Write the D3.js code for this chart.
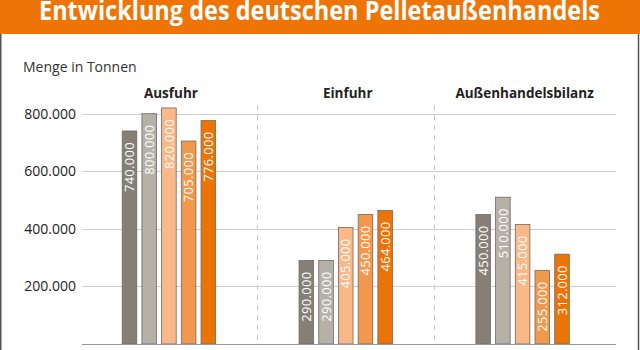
<!DOCTYPE html>
<html>
<head>
<meta charset="utf-8">
<script src="https://cdn.jsdelivr.net/npm/d3@7"></script>
<style>
    body { margin: 0; background: #fff; }
    svg { display: block; }
</style>
</head>
<body>
<div id="viz"></div>
<script>
// Data
const groups = ["Ausfuhr", "Einfuhr", "Außenhandelsbilanz"];
const series = ["s1", "s2", "s3", "s4", "s5"];
const ausfuhr = [740000, 800000, 820000, 705000, 776000];
const einfuhr = [290000, 290000, 405000, 450000, 464000];
const bilanz = [450000, 510000, 415000, 255000, 312000];
const yTicks = [200000, 400000, 600000, 800000];

const values = [ausfuhr, einfuhr, bilanz];
const colors = ["#867f75", "#b5b1a7", "#f8b887", "#f2984c", "#ec7406"];

const width = 640, height = 350;
const fmt = d => d3.format(",.0f")(d).replace(/,/g, ".");

const svg = d3.select("#viz").append("svg")
    .attr("width", width)
    .attr("height", height)
    .style("font-family", "'Open Sans', sans-serif");

// title bar
svg.append("rect")
    .attr("x", 0).attr("y", 0)
    .attr("width", width).attr("height", 34)
    .attr("fill", "#ee7405");

svg.append("text")
    .attr("x", 39)
    .attr("y", 20)
    .attr("textLength", 561)
    .attr("lengthAdjust", "spacingAndGlyphs")
    .attr("fill", "#fff")
    .style("font-size", "26px")
    .style("font-weight", "700")
    .text("Entwicklung des deutschen Pelletaußenhandels");

// frame lines left/right
svg.append("line").attr("x1", 0.75).attr("x2", 0.75).attr("y1", 34).attr("y2", height)
    .attr("stroke", "#555").attr("stroke-width", 1.5);
svg.append("line").attr("x1", 638.5).attr("x2", 638.5).attr("y1", 34).attr("y2", height)
    .attr("stroke", "#555").attr("stroke-width", 1.5);

svg.append("text")
    .attr("x", 23)
    .attr("y", 72)
    .attr("fill", "#333")
    .style("font-size", "14px")
    .text("Menge in Tonnen");

// scales
const x = d3.scaleBand()
    .domain(groups)
    .range([80.5, 611]);

const xInner = d3.scaleBand()
    .domain(series)
    .range([-46.7, 46.7])
    .paddingInner(0.26);

const y = d3.scaleLinear()
    .domain([0, 800000])
    .range([344, 113.7]);

// grid
const grid = svg.append("g");
grid.selectAll("line")
    .data(yTicks)
    .enter().append("line")
    .attr("x1", 82).attr("x2", 616)
    .attr("y1", d => Math.round(y(d)) + 0.5)
    .attr("y2", d => Math.round(y(d)) + 0.5)
    .attr("stroke", "#cfcfcf");

// y axis labels
svg.append("g")
    .selectAll("text")
    .data(yTicks)
    .enter().append("text")
    .attr("x", 76)
    .attr("y", d => y(d))
    .attr("dy", "0.36em")
    .attr("text-anchor", "end")
    .attr("fill", "#222")
    .style("font-size", "14px")
    .text(d => fmt(d));

// dashed separators
svg.append("g")
    .selectAll("line")
    .data(groups.slice(1))
    .enter().append("line")
    .attr("x1", d => Math.round(x(d)) + 0.5)
    .attr("x2", d => Math.round(x(d)) + 0.5)
    .attr("y1", 105).attr("y2", 344)
    .attr("stroke", "#c8c8c8")
    .attr("stroke-dasharray", "5,5");

// group labels
svg.append("g")
    .selectAll("text")
    .data(groups)
    .enter().append("text")
    .attr("x", d => x(d) + x.bandwidth() / 2 + 2)
    .attr("y", 98)
    .attr("text-anchor", "middle")
    .attr("fill", "#222")
    .style("font-size", "13.5px")
    .style("font-weight", "700")
    .text(d => d);

// bars
const g = svg.selectAll(".grp")
    .data(groups)
    .enter().append("g")
    .attr("class", "grp")
    .attr("transform", d => "translate(" + (x(d) + x.bandwidth() / 2) + ",0)");

const bar = g.selectAll(".bar")
    .data((d, i) => values[i].map((v, j) => ({ s: series[j], v: v, c: colors[j] })))
    .enter().append("g")
    .attr("class", "bar");

bar.append("rect")
    .attr("x", d => xInner(d.s))
    .attr("y", d => y(d.v))
    .attr("width", xInner.bandwidth())
    .attr("height", d => y(0) - y(d.v))
    .attr("fill", d => d.c)
    .attr("stroke", "#6f6a63")
    .attr("stroke-width", 0.8);

bar.append("text")
    .attr("transform", d => "translate(" + (xInner(d.s) + xInner.bandwidth() / 2) + "," + (y(d.v) + 11) + ") rotate(-90)")
    .attr("dy", "0.36em")
    .attr("text-anchor", "end")
    .attr("fill", "#fff")
    .style("font-size", "13px")
    .style("letter-spacing", "0.3px")
    .text(d => fmt(d.v));

// baseline
svg.append("line")
    .attr("x1", 82).attr("x2", 616)
    .attr("y1", 344.5).attr("y2", 344.5)
    .attr("stroke", "#999");
</script>
</body>
</html>
